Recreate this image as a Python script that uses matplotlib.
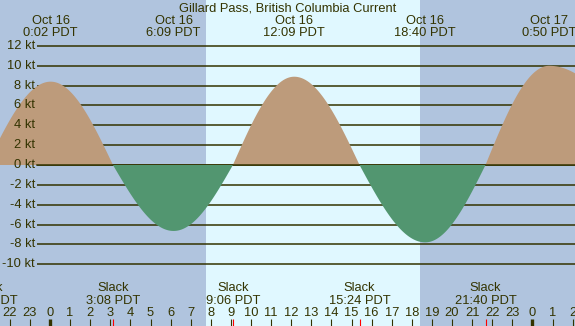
import numpy as np
import matplotlib
matplotlib.use("Agg")
import matplotlib.pyplot as plt
from matplotlib.transforms import blended_transform_factory

# current events (slack / max)
ev_day = ["Oct 15", "Oct 16", "Oct 16", "Oct 16", "Oct 16", "Oct 16",
          "Oct 16", "Oct 16", "Oct 16", "Oct 17", "Oct 17"]
ev_clock = ["20:51", "0:02", "3:08", "6:09", "9:06", "12:09",
            "15:24", "18:40", "21:40", "0:50", "6:00"]
ev_kt = [0, 8.4, 0, -6.65, 0, 8.9, 0, -7.8, 0, 10.0, 0]

sunrise = "7:46"
sunset = "18:25"

kt_ticks = [12, 10, 8, 6, 4, 2, 0, -2, -4, -6, -8, -10]
title = "Gillard Pass, British Columbia Current"

day_offset = {"Oct 15": -1, "Oct 16": 0, "Oct 17": 1}

txt_col = "#333300"
night_col = "#b0c4de"
day_col = "#e0f8ff"
flood_col = "#bd9b7b"
ebb_col = "#529670"

plt.rcParams['font.family'] = ['Liberation Sans', 'DejaVu Sans']
plt.rcParams['font.size'] = 9.3


def to_hours(day, clock):
    h, m = clock.split(":")
    return day_offset[day] * 24 + int(h) + int(m) / 60.0


ev_h = np.array([to_hours(d, c) for d, c in zip(ev_day, ev_clock)])
ev_v = np.array(ev_kt, dtype=float)

# curve between events: quarter waves slack->max->slack
xs, ys = [], []
for i in range(len(ev_h) - 1):
    t = np.linspace(ev_h[i], ev_h[i + 1], 80)
    u = (t - ev_h[i]) / (ev_h[i + 1] - ev_h[i])
    if ev_v[i] == 0:
        v = ev_v[i + 1] * np.sin(np.pi / 2 * u)
    else:
        v = ev_v[i] * np.cos(np.pi / 2 * u)
    xs.append(t)
    ys.append(v)
xs = np.concatenate(xs)
ys = np.concatenate(ys)

W, H = 575, 326
px_hr = 20.1
x0 = 50       # pixel of Oct 16 0:00
y0 = 165      # pixel of 0 kt
px_kt = 9.92

fig = plt.figure(figsize=(W / 100, H / 100), dpi=100)
ax = fig.add_axes([0, 0, 1, 1])
ax.set_xlim(-x0 / px_hr, (W - x0) / px_hr)
ax.set_ylim(-(H - y0) / px_kt, y0 / px_kt)
ax.axis('off')

xmin, xmax = ax.get_xlim()
sr = to_hours("Oct 16", sunrise)
ss = to_hours("Oct 16", sunset)
ax.axvspan(xmin, sr, color=night_col, lw=0, zorder=0)
ax.axvspan(sr, ss, color=day_col, lw=0, zorder=0)
ax.axvspan(ss, xmax, color=night_col, lw=0, zorder=0)

# kt grid lines and labels
gx = (37 - x0) / px_hr
for k in kt_ticks:
    ax.plot([gx, xmax], [k, k], color=txt_col, lw=1.1, zorder=1,
            solid_capstyle='butt')
    ax.text((35 - x0) / px_hr, k, f"{k} kt", ha='right', va='center',
            color=txt_col)

ax.fill_between(xs, ys, 0, where=ys >= 0, interpolate=True,
                color=flood_col, lw=0, zorder=2)
ax.plot([gx, xmax], [0, 0], color=txt_col, lw=1.1, zorder=3)
ax.fill_between(xs, ys, 0, where=ys <= 0, interpolate=True,
                color=ebb_col, lw=0, zorder=4)

trans = blended_transform_factory(ax.transData, fig.transFigure)


def fy(py):
    return 1 - py / H


fig.text(0.5, fy(11.5), title, ha='center', va='baseline', color=txt_col)

for d, c, h, v in zip(ev_day, ev_clock, ev_h, ev_v):
    if h > xmax + 1:
        continue  # label falls outside the picture
    if v != 0:
        ax.text(h, fy(24.5), d, transform=trans, ha='center',
                va='baseline', color=txt_col)
        ax.text(h, fy(36.5), f"{c} PDT", transform=trans, ha='center',
                va='baseline', color=txt_col)
    else:
        ax.text(h, fy(291), "Slack", transform=trans, ha='center',
                va='baseline', color=txt_col)
        ax.text(h, fy(304), f"{c} PDT", transform=trans, ha='center',
                va='baseline', color=txt_col)

# hour ticks along the bottom
t_lo = fy(326)
t_hi = fy(318.5)
for hr in range(-2, 27):
    ax.text(hr, fy(315.5), str(hr % 24), transform=trans, ha='center',
            va='baseline', color=txt_col)
    lw = 2.4 if hr % 24 == 0 else 0.8
    ax.plot([hr, hr], [t_lo, t_hi], transform=trans, color=txt_col,
            lw=lw, solid_capstyle='butt', zorder=5)
for h, v in zip(ev_h, ev_v):
    if v == 0:
        ax.plot([h, h], [t_lo, t_hi], transform=trans, color='red',
                lw=0.8, solid_capstyle='butt', zorder=5)

fig.savefig("out.png", dpi=100)
